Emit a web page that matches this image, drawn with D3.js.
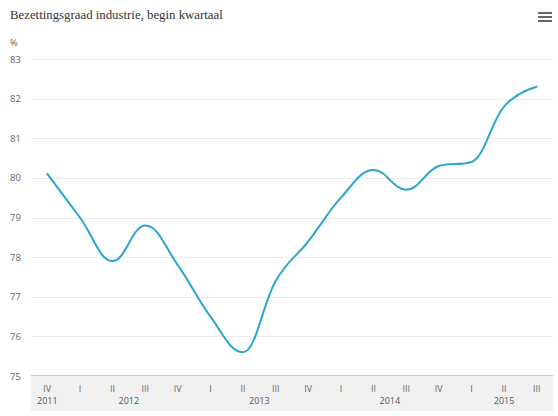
<!DOCTYPE html>
<html>
<head>
<meta charset="utf-8">
<script src="https://cdn.jsdelivr.net/npm/d3@7"></script>
<style>
html,body{margin:0;padding:0;background:#fff;}
svg{display:block;}
</style>
</head>
<body>
<svg id="chart" width="558" height="416"></svg>
<script>
const quarters = ["IV","I","II","III","IV","I","II","III","IV","I","II","III","IV","I","II","III"];
const years = [
  {label:"2011", from:0, to:0},
  {label:"2012", from:1, to:4},
  {label:"2013", from:5, to:8},
  {label:"2014", from:9, to:12},
  {label:"2015", from:13, to:15}
];
const values = [80.1, 79.0, 77.9, 78.8, 77.8, 76.5, 75.6, 77.4, 78.4, 79.5, 80.2, 79.7, 80.3, 80.4, 81.8, 82.3];
const yTicks = [75, 76, 77, 78, 79, 80, 81, 82, 83];
const title = "Bezettingsgraad industrie, begin kwartaal";
const unit = "%";

const svg = d3.select("#chart");
const plotLeft = 31, plotRight = 553, plotTop = 59, plotBottom = 376;

const x = d3.scalePoint().domain(d3.range(quarters.length)).range([plotLeft, plotRight]).padding(0.5);
const y = d3.scaleLinear().domain([75, 83]).range([plotBottom, plotTop]);

// title
const t = svg.append("text").attr("x", 10).attr("y", 19)
  .attr("font-family", "'Liberation Serif', 'DejaVu Serif', serif")
  .attr("font-size", 13).attr("fill", "#333").text(title);
const tw = t.node().getComputedTextLength();
t.attr("font-size", 13 * 213 / tw);

// menu icon
[13, 17, 21].forEach(yy => {
  svg.append("rect").attr("x", 538).attr("y", yy - 1).attr("width", 14).attr("height", 2).attr("fill", "#666");
});

// gridlines
svg.append("g").selectAll("line").data(yTicks.filter(d => d !== 75)).join("line")
  .attr("x1", plotLeft).attr("x2", plotRight)
  .attr("y1", d => Math.round(y(d)) + 0.5).attr("y2", d => Math.round(y(d)) + 0.5)
  .attr("stroke", "#ececec").attr("stroke-width", 1);

// y labels
svg.append("g").selectAll("text").data(yTicks).join("text")
  .attr("x", 10).attr("y", d => y(d) + 3.5)
  .attr("font-family", "'Open Sans', sans-serif").attr("font-size", 9.5).attr("fill", "#666")
  .text(d => d);
svg.append("text").attr("x", 10).attr("y", 46)
  .attr("font-family", "'Open Sans', sans-serif").attr("font-size", 9.5).attr("fill", "#666").text(unit);

// x band
svg.append("rect").attr("x", plotLeft).attr("y", plotBottom).attr("width", plotRight - plotLeft).attr("height", 35).attr("fill", "#f1f1f1");
svg.append("line").attr("x1", plotLeft).attr("x2", plotRight).attr("y1", plotBottom - 0.5).attr("y2", plotBottom - 0.5).attr("stroke", "#cfcfcf");

svg.append("g").selectAll("text").data(quarters).join("text")
  .attr("x", (d, i) => x(i)).attr("y", 392)
  .attr("text-anchor", "middle")
  .attr("font-family", "'Open Sans', sans-serif").attr("font-size", 9).attr("fill", "#666")
  .text(d => d);
svg.append("g").selectAll("text").data(years).join("text")
  .attr("x", d => (x(d.from) + x(d.to)) / 2).attr("y", 404)
  .attr("text-anchor", "middle")
  .attr("font-family", "'Open Sans', sans-serif").attr("font-size", 9).attr("fill", "#555")
  .text(d => d.label);

// Highcharts-like spline curve
function splinePath(pts) {
  const smoothing = 1.5, denom = smoothing + 1;
  const p = d3.path();
  const ctrl = pts.map((pt, i) => {
    const prev = pts[i - 1], next = pts[i + 1];
    if (!prev || !next) return null;
    let lcx = (smoothing * pt[0] + prev[0]) / denom;
    let lcy = (smoothing * pt[1] + prev[1]) / denom;
    let rcx = (smoothing * pt[0] + next[0]) / denom;
    let rcy = (smoothing * pt[1] + next[1]) / denom;
    let corr = 0;
    if (rcx !== lcx) corr = ((rcy - lcy) * (rcx - pt[0])) / (rcx - lcx) + pt[1] - rcy;
    lcy += corr; rcy += corr;
    if (lcy > prev[1] && lcy > pt[1]) { lcy = Math.max(prev[1], pt[1]); rcy = 2 * pt[1] - lcy; }
    else if (lcy < prev[1] && lcy < pt[1]) { lcy = Math.min(prev[1], pt[1]); rcy = 2 * pt[1] - lcy; }
    if (rcy > next[1] && rcy > pt[1]) { rcy = Math.max(next[1], pt[1]); lcy = 2 * pt[1] - rcy; }
    else if (rcy < next[1] && rcy < pt[1]) { rcy = Math.min(next[1], pt[1]); lcy = 2 * pt[1] - rcy; }
    return {l: [lcx, lcy], r: [rcx, rcy]};
  });
  p.moveTo(pts[0][0], pts[0][1]);
  for (let i = 1; i < pts.length; i++) {
    const a = ctrl[i - 1] ? ctrl[i - 1].r : pts[i - 1];
    const b = ctrl[i] ? ctrl[i].l : pts[i];
    p.bezierCurveTo(a[0], a[1], b[0], b[1], pts[i][0], pts[i][1]);
  }
  return p.toString();
}

const pts = values.map((v, i) => [x(i), y(v)]);
svg.append("path").attr("d", splinePath(pts))
  .attr("fill", "none").attr("stroke", "#2aa6cd").attr("stroke-width", 2)
  .attr("stroke-linejoin", "round").attr("stroke-linecap", "round");
</script>
</body>
</html>
